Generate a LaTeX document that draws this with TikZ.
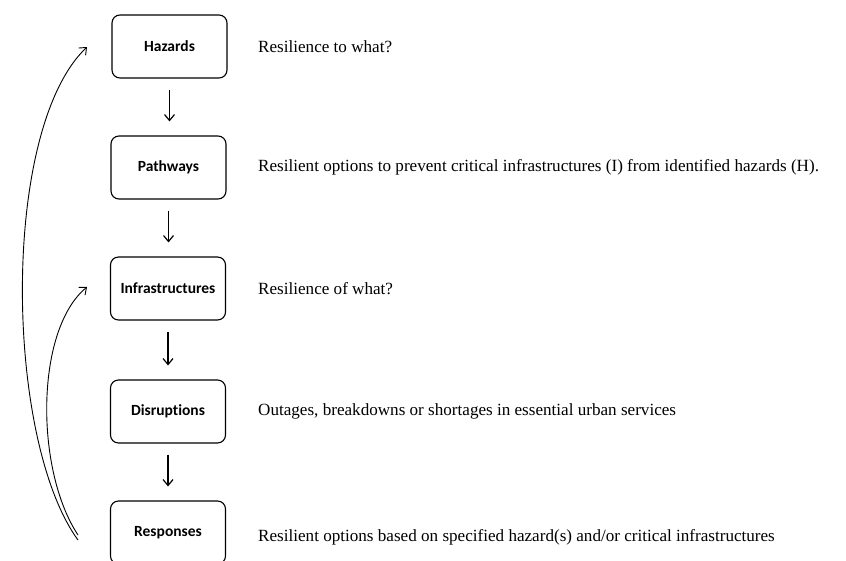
\documentclass[tikz,border=0pt]{standalone}
\usepackage{fontspec}
\setmainfont{Liberation Serif}
\newfontfamily\boxfont[Ligatures=NoCommon]{Carlito}
\usetikzlibrary{arrows.meta}
\tikzset{
  stagebox/.style={draw, line width=1.1pt, rounded corners=8pt, minimum width=115pt, minimum height=63pt, font=\boxfont\bfseries\fontsize{15.5}{18}\selectfont, inner sep=0pt},
  desc/.style={anchor=west, inner sep=0pt, font=\fontsize{17.1}{20}\selectfont},
  flow/.style={line width=1.2pt, -{Straight Barb[length=6pt,width=10pt]}},
  loop/.style={line width=0.9pt, -{Straight Barb[length=6pt,width=10pt]}}
}
\begin{document}
\begin{tikzpicture}[x=1pt,y=-1pt]
\useasboundingbox (0,0) rectangle (846,561);
\node[stagebox] (haz) at (169.5,46.5) {Hazards};
\node[stagebox] (path) at (168.5,167.5) {Pathways};
\node[stagebox] (inf) at (168,288.5) {Infrastructures};
\node[stagebox] (dis) at (168,411.5) {Disruptions};
\node[stagebox] (res) at (168,532.5) {Responses};

\draw[flow, shorten <=11pt, shorten >=14pt] (haz.south) -- (haz.south |- path.north);
\draw[flow, shorten <=11pt, shorten >=14pt] (path.south) -- (path.south |- inf.north);
\draw[flow, shorten <=11pt, shorten >=14pt] (inf.south) -- (inf.south |- dis.north);
\draw[flow, shorten <=11pt, shorten >=14pt] (dis.south) -- (dis.south |- res.north);

\node[desc] (t1) at (258,46.5) {Resilience to what?};
\node[desc] (t2) at (258,167.5) {Resilient options to prevent critical infrastructures (I) from identified hazards (H).};
\node[desc] (t3) at (258,289) {Resilience of what?};
\node[desc] (t4) at (258,411) {Outages, breakdowns or shortages in essential urban services};
\node[desc] (t5) at (258,537) {Resilient options based on specified hazard(s) and/or critical infrastructures};

\coordinate (s1) at (78,540);
\coordinate (e1) at (87,47);
\coordinate (s2) at (78,535);
\coordinate (e2) at (87,287);
\draw[loop] (s1) .. controls (5,440) and (0,130) .. (e1);
\draw[loop] (s2) .. controls (35,470) and (35,330) .. (e2);
\end{tikzpicture}
\end{document}
